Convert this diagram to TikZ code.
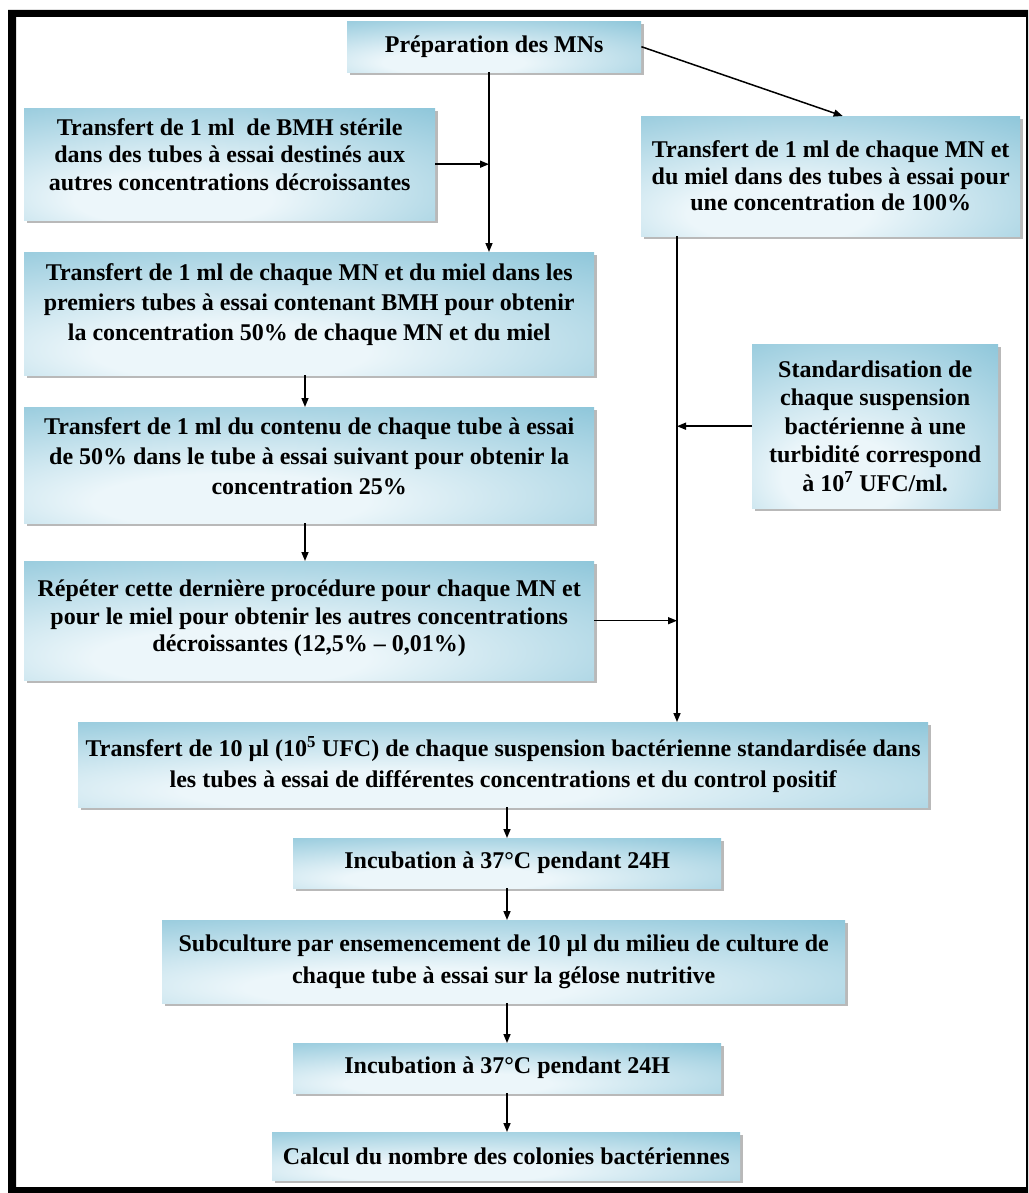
\documentclass[tikz,border=0pt]{standalone}
\usepackage{fontspec}
\setmainfont{Liberation Serif}
\usetikzlibrary{arrows.meta,shadows}
\definecolor{boxlight}{RGB}{236,246,250}
\definecolor{boxdark}{RGB}{122,188,211}
\pgfdeclareradialshading{boxsh}{\pgfpoint{-8bp}{-18bp}}{color(0bp)=(boxlight); color(12bp)=(boxlight); color(52bp)=(boxdark); color(90bp)=(boxdark)}
\tikzset{
  box/.style={shading=boxsh, drop shadow={shadow xshift=2.5pt,shadow yshift=-2.5pt,fill=black!55},
    align=center, inner sep=0pt, anchor=north west,
    font=\bfseries\fontsize{24}{28.5}\selectfont},
  arr/.style={line width=1.5pt, -{Triangle[length=9pt,width=7pt]}},
  ls/.style={font=\bfseries\fontsize{24}{#1}\selectfont}
}
\begin{document}
\begin{tikzpicture}[x=1pt,y=-1pt]
\useasboundingbox (0,0) rectangle (1028,1193);
\fill[black, even odd rule] (8,10) rectangle (1028,1193) (16,17) rectangle (1026,1187);

\node[box, minimum width=294pt, minimum height=51pt] (prep) at (347,21) {Préparation des MNs};
\node[box, minimum width=411pt, minimum height=112pt, ls=27.5, text depth=20pt] (bmh) at (24,108)
  {Transfert de 1 ml\ \ de BMH stérile\\dans des tubes à essai destinés aux\\autres concentrations décroissantes};
\node[box, minimum width=379pt, minimum height=120pt, ls=26.5] (r100) at (641,116)
  {Transfert de 1 ml de chaque MN et\\du miel dans des tubes à essai pour\\une concentration de 100\%};
\node[box, minimum width=570pt, minimum height=123pt, ls=30, text depth=24pt] (b50) at (24,252)
  {Transfert de 1 ml de chaque MN et du miel dans les\\premiers tubes à essai contenant BMH pour obtenir\\la concentration 50\% de chaque MN et du miel};
\node[box, minimum width=570pt, minimum height=116pt, ls=30, text depth=18pt] (b25) at (24,407)
  {Transfert de 1 ml du contenu de chaque tube à essai\\de 50\% dans le tube à essai suivant pour obtenir la\\concentration 25\%};
\node[box, minimum width=570pt, minimum height=119pt, ls=27.5, text depth=10pt] (rep) at (24,561)
  {Répéter cette dernière procédure pour chaque MN et\\pour le miel pour obtenir les autres concentrations\\décroissantes (12,5\% – 0,01\%)};
\node[box, minimum width=246pt, minimum height=164pt, ls=28.5] (std) at (752,344)
  {Standardisation de\\chaque suspension\\bactérienne à une\\turbidité correspond\\à 10\textsuperscript{7} UFC/ml.};
\node[box, minimum width=850pt, minimum height=85pt, ls=31] (t10) at (78,722)
  {Transfert de 10 µl (10\textsuperscript{5} UFC) de chaque suspension bactérienne standardisée dans\\les tubes à essai de différentes concentrations et du control positif};
\node[box, minimum width=428pt, minimum height=50pt] (inc1) at (293,838) {Incubation à 37°C pendant 24H};
\node[box, minimum width=683pt, minimum height=83pt, ls=32] (sub) at (162,920)
  {Subculture par ensemencement de 10 µl du milieu de culture de\\chaque tube à essai sur la gélose nutritive};
\node[box, minimum width=428pt, minimum height=50pt] (inc2) at (293,1043) {Incubation à 37°C pendant 24H};
\node[box, minimum width=468pt, minimum height=48pt] (calc) at (272,1132) {Calcul du nombre des colonies bactériennes};

\coordinate (tL) at (489,0);
\coordinate (tR) at (677,0);
\coordinate (tS) at (305,0);
\coordinate (tC) at (507,0);

\draw[arr] (prep.south -| tL) -- (b50.north -| tL);
\draw[arr] (bmh.east) -- (bmh.east -| tL);
\draw[arr] (prep.east) -- ([xshift=12pt]r100.north);
\draw[arr] (b50.south -| tS) -- (b25.north -| tS);
\draw[arr] (b25.south -| tS) -- (rep.north -| tS);
\draw[arr] (r100.south -| tR) -- (t10.north -| tR);
\draw[arr] (std.west) -- (std.west -| tR);
\draw[arr] (rep.east) -- (rep.east -| tR);
\draw[arr] (t10.south -| tC) -- (inc1.north -| tC);
\draw[arr] (inc1.south -| tC) -- (sub.north -| tC);
\draw[arr] (sub.south -| tC) -- (inc2.north -| tC);
\draw[arr] (inc2.south -| tC) -- (calc.north -| tC);
\end{tikzpicture}
\end{document}
